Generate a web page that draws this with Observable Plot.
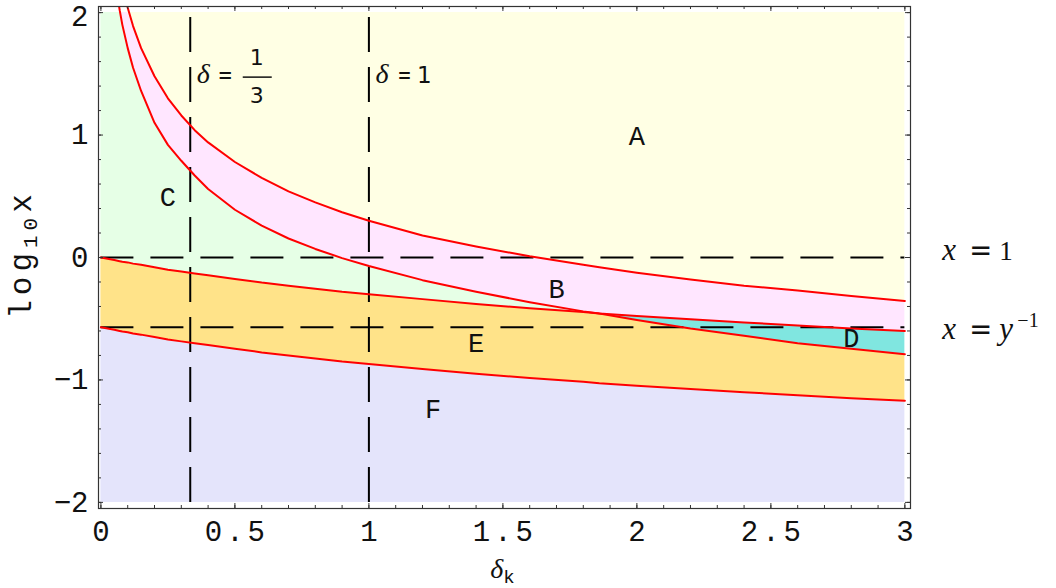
<!DOCTYPE html>
<html>
<head>
<meta charset="utf-8">
<script src="https://cdn.jsdelivr.net/npm/d3@7"></script>
<script src="https://cdn.jsdelivr.net/npm/@observablehq/plot@0.6"></script>
<style>
  body { margin: 0; background: #fff; }
  #chart svg { display: block; }
</style>
</head>
<body>
<div id="chart"></div>
<script>
// Sample points along δ_k for the four boundary curves (log10 x)
const delta  = [0, 0.05, 0.07, 0.08, 0.1, 0.12, 0.15, 0.2, 0.25, 0.3, 0.35, 0.4, 0.5, 0.6, 0.7, 0.8, 0.9, 1.0, 1.2, 1.4, 1.6, 1.8, 1.86, 2.0, 2.2, 2.4, 2.6, 2.8, 3.0];
const upperB = [null, 2.62, 2.34, 2.23, 2.04, 1.89, 1.71, 1.48, 1.30, 1.16, 1.04, 0.94, 0.78, 0.65, 0.54, 0.45, 0.37, 0.30, 0.18, 0.09, 0.01, -0.06, -0.08, -0.125, -0.18, -0.23, -0.27, -0.315, -0.355];
const lowerB = [null, 2.30, 2.02, 1.90, 1.71, 1.55, 1.36, 1.10, 0.92, 0.79, 0.67, 0.56, 0.39, 0.26, 0.155, 0.07, -0.005, -0.07, -0.185, -0.28, -0.365, -0.44, -0.457, -0.51, -0.58, -0.64, -0.70, -0.745, -0.79];
const upperE = [0, -0.02, -0.03, -0.035, -0.04, -0.05, -0.06, -0.08, -0.10, -0.115, -0.13, -0.145, -0.175, -0.205, -0.23, -0.255, -0.28, -0.30, -0.34, -0.38, -0.415, -0.445, -0.457, -0.477, -0.505, -0.53, -0.555, -0.58, -0.60];
const lowerE = [-0.57, -0.59, -0.60, -0.605, -0.61, -0.62, -0.63, -0.65, -0.67, -0.685, -0.70, -0.715, -0.745, -0.775, -0.80, -0.825, -0.85, -0.87, -0.91, -0.95, -0.985, -1.015, -1.027, -1.047, -1.075, -1.10, -1.125, -1.15, -1.17];

// Region labels
const regionName = ["A", "B", "C", "D", "E", "F"];
const regionX    = [2.0, 1.70, 0.25, 2.80, 1.40, 1.24];
const regionY    = [0.99, -0.26, 0.49, -0.66, -0.70, -1.24];

// Reference lines: δ = 1/3, δ = 1 and x = 1, x = 1/y
const deltaRefs = [1 / 3, 1];
const logxRefs  = [0, -0.57];

// Axis ticks
const xMajor = [0, 0.5, 1, 1.5, 2, 2.5, 3];
const yMajor = [-2, -1, 0, 1, 2];
const xMinor = d3.range(0, 31).map(i => i / 10);
const yMinor = d3.range(0, 21).map(i => -2 + i / 5);

const colors = {
  A: "#ffffe4", B: "#ffe6ff", C: "#e6ffe6", D: "#80e6e0", E: "#ffe389", F: "#e4e4fb"
};

const cap = v => Math.max(-2, Math.min(2, v));
const rows = delta.map((d, i) => {
  const ub = cap(upperB[i] ?? Infinity);
  const lb = cap(lowerB[i] ?? Infinity);
  const ue = upperE[i], le = lowerE[i];
  return {d, ub, lb, ue, le, lo: Math.min(ue, lb), hi: Math.max(ue, lb)};
});

const W = 1056, H = 588;
const mL = 98, mR = 146, mT = 6, mB = 80;
const fw = W - mL - mR, fh = H - mT - mB;
const tickStroke = "#333";

const curve = (ys) => Plot.line(delta, {
  x: d => d, y: (d, i) => ys[i], stroke: "#ff0000", strokeWidth: 2, clip: true
});

const chart = Plot.plot({
  width: W, height: H,
  marginLeft: mL, marginRight: mR, marginTop: mT, marginBottom: mB,
  style: {fontFamily: "'Liberation Mono', monospace", fontSize: "29px", color: "#111", background: "#fff"},
  x: {domain: [-0.009, 3.021], ticks: xMajor, tickSize: 0, tickPadding: 12, tickFormat: d => String(d), label: null},
  y: {domain: [-2.05, 2.05], ticks: yMajor, tickSize: 0, tickPadding: 10,
      tickFormat: d => d < 0 ? "\u2212" + Math.abs(d) : String(d), label: null},
  marks: [
    Plot.areaY(rows, {x: "d", y1: -2, y2: "le", fill: colors.F}),
    Plot.areaY(rows, {x: "d", y1: "le", y2: "lo", fill: colors.E}),
    Plot.areaY(rows, {x: "d", y1: "lo", y2: "ue", fill: colors.D}),
    Plot.areaY(rows, {x: "d", y1: "ue", y2: "hi", fill: colors.C}),
    Plot.areaY(rows, {x: "d", y1: "hi", y2: "ub", fill: colors.B}),
    Plot.areaY(rows, {x: "d", y1: "ub", y2: 2, fill: colors.A}),
    // dashed reference lines
    Plot.ruleX(deltaRefs, {x: d => d, y1: -2, y2: 2, stroke: "#000", strokeWidth: 2, strokeDasharray: "35,15"}),
    Plot.ruleY(logxRefs, {y: d => d, x1: 0, x2: 3, stroke: "#000", strokeWidth: 2, strokeDasharray: "33,17"}),
    // boundary curves
    curve(upperB), curve(lowerB), curve(upperE), curve(lowerE),
    // region labels
    Plot.text(regionName, {x: (d, i) => regionX[i], y: (d, i) => regionY[i], text: d => d,
      fontFamily: "'Liberation Mono', monospace", fontSize: 27, fill: "#111"}),
    // inward ticks on all four sides
    Plot.tickX(xMinor, {x: d => d, insetTop: fh - 3, stroke: tickStroke}),
    Plot.tickX(xMajor, {x: d => d, insetTop: fh - 5, stroke: tickStroke}),
    Plot.tickX(xMinor, {x: d => d, insetBottom: fh - 3, stroke: tickStroke}),
    Plot.tickX(xMajor, {x: d => d, insetBottom: fh - 5, stroke: tickStroke}),
    Plot.tickY(yMinor, {y: d => d, insetRight: fw - 3, stroke: tickStroke}),
    Plot.tickY(yMajor, {y: d => d, insetRight: fw - 5, stroke: tickStroke}),
    Plot.tickY(yMinor, {y: d => d, insetLeft: fw - 3, stroke: tickStroke}),
    Plot.tickY(yMajor, {y: d => d, insetLeft: fw - 5, stroke: tickStroke}),
    Plot.frame({stroke: "#333", strokeWidth: 1.2})
  ]
});

document.getElementById("chart").append(chart);

const svg = d3.select(chart);

// wider, typewriter-like spacing for the x tick labels; keep the top y label inside
svg.selectAll('g[aria-label="x-axis tick label"] text')
  .attr("letter-spacing", 4).attr("dx", 2);
svg.selectAll('g[aria-label="y-axis tick label"] text')
  .filter(function () { return this.textContent === "2"; })
  .attr("dy", 4);

// Mathematical annotations and axis titles
const sx = chart.scale("x"), sy = chart.scale("y");
const g = svg.append("g").attr("fill", "#111");
const serif = "'Liberation Serif', 'Times New Roman', serif";
const sans = "'DejaVu Sans', sans-serif";
const mono = "'Liberation Mono', monospace";

function txt(x, y, s, opts = {}) {
  const t = g.append("text").attr("x", x).attr("y", y).text(s)
    .attr("font-family", opts.family || serif)
    .attr("font-size", opts.size || 26)
    .attr("text-anchor", opts.anchor || "start");
  if (opts.italic) t.attr("font-style", "italic");
  if (opts.len) t.attr("textLength", opts.len).attr("lengthAdjust", "spacingAndGlyphs");
  return t;
}

// δ = 1/3 and δ = 1 labels beside the vertical lines
const topY = sy.apply(2);
const a = sx.apply(deltaRefs[0]);
txt(a + 7, topY + 71, "δ", {italic: true, size: 28});
txt(a + 28, topY + 71, "=", {family: sans, size: 24, len: 15});
txt(a + 67, topY + 53, "1", {family: sans, size: 22, anchor: "middle"});
g.append("line").attr("x1", a + 53).attr("x2", a + 82).attr("y1", topY + 65).attr("y2", topY + 65)
  .attr("stroke", "#111").attr("stroke-width", 1.5);
txt(a + 67, topY + 91, "3", {family: sans, size: 22, anchor: "middle"});

const b = sx.apply(deltaRefs[1]);
txt(b + 7, topY + 71, "δ", {italic: true, size: 28});
txt(b + 29, topY + 71, "=", {family: sans, size: 24, len: 14});
txt(b + 56, topY + 71, "1", {family: sans, size: 23, anchor: "middle"});

// right-hand labels of the horizontal lines
const right = sx.apply(3) + 38;
const y0 = sy.apply(logxRefs[0]), y1 = sy.apply(logxRefs[1]);
txt(right, y0 + 2.5, "x", {italic: true, size: 31});
txt(right + 27, y0 + 2.5, "=", {family: sans, size: 30, len: 23});
txt(right + 57, y0 + 2.5, "1", {size: 27});
txt(right, y1 + 12.5, "x", {italic: true, size: 31});
txt(right + 27, y1 + 12.5, "=", {family: sans, size: 30, len: 23});
txt(right + 57, y1 + 12.5, "y", {italic: true, size: 31});
txt(right + 75, y1 + 0.5, "\u22121", {size: 20});

// axis titles
const xt = g.append("text").attr("x", sx.apply(1.5)).attr("y", 578).attr("text-anchor", "middle");
xt.append("tspan").attr("font-family", serif).attr("font-style", "italic").attr("font-size", 28).text("δ");
xt.append("tspan").attr("font-family", mono).attr("font-size", 19).attr("dy", 5).text("k");

const yt = g.append("text").attr("transform", `translate(31,${sy.apply(0) - 3}) rotate(-90)`)
  .attr("text-anchor", "middle").attr("font-family", mono).attr("font-size", 31)
  .attr("letter-spacing", 5);
yt.append("tspan").text("log");
yt.append("tspan").attr("font-size", 21).attr("dy", 6).text("10");
yt.append("tspan").attr("dy", -6).text("x");
</script>
</body>
</html>
